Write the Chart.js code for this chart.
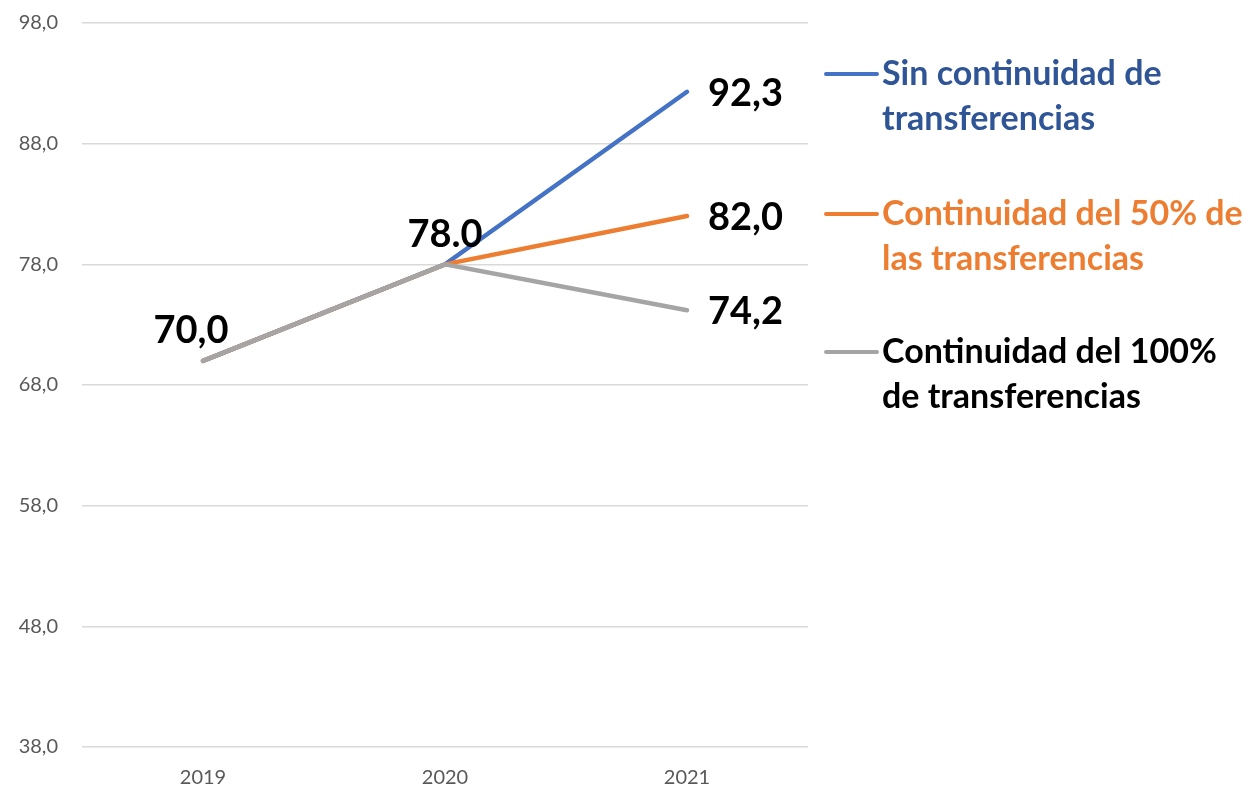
<!DOCTYPE html>
<html><head><meta charset="utf-8">
<script src="https://cdn.jsdelivr.net/npm/chart.js@4/dist/chart.umd.min.js"></script>
<style>html,body{margin:0;padding:0;background:#fff}#wrap{width:1253px;height:788px}</style>
</head><body><div id="wrap"><canvas id="c" width="1253" height="788"></canvas></div>
<script>
const categories = ['2019', '2020', '2021'];
const sinContinuidad = [70.0, 78.0, 92.3];
const continuidad50 = [70.0, 78.0, 82.0];
const continuidad100 = [70.0, 78.0, 74.2];
const seriesNames = [
  ['Sin continuidad de', 'transferencias'],
  ['Continuidad del 50% de', 'las transferencias'],
  ['Continuidad del 100%', 'de transferencias']
];
const yMin = 38, yMax = 98, yStep = 10;

const FONT = 'Lato, "Noto Sans", sans-serif';
const fmt = v => v.toFixed(1).replace('.', ',');

const labelPlugin = {
  id: 'labels',
  afterDatasetsDraw(chart) {
    const ctx = chart.ctx;
    ctx.save();
    ctx.fillStyle = '#000';
    ctx.font = 'bold 38px ' + FONT;
    ctx.textBaseline = 'middle';
    chart.data.datasets.forEach((ds, i) => {
      const p = chart.getDatasetMeta(i).data[2];
      ctx.textAlign = 'left';
      ctx.fillText(fmt(ds.data[2]), p.x + 21, p.y + 2);
    });
    const meta = chart.getDatasetMeta(2);
    const p0 = meta.data[0], p1 = meta.data[1];
    ctx.textAlign = 'center';
    ctx.fillText(fmt(continuidad100[0]), p0.x - 12, p0.y - 30);
    ctx.fillText(continuidad100[1].toFixed(1), p1.x, p1.y - 30);
    const legendY = [74, 214, 352];
    const textColors = ['#2F5597', '#ED7D31', '#000000'];
    chart.data.datasets.forEach((ds, i) => {
      const y = legendY[i];
      ctx.strokeStyle = ds.borderColor;
      ctx.lineWidth = 4;
      ctx.lineCap = 'round';
      ctx.beginPath(); ctx.moveTo(826, y); ctx.lineTo(877, y); ctx.stroke();
      ctx.fillStyle = textColors[i];
      ctx.font = 'bold 34px ' + FONT;
      ctx.textAlign = 'left';
      ctx.textBaseline = 'middle';
      seriesNames[i].forEach((t, j) => ctx.fillText(t, 882, y + j * 45));
    });
    ctx.restore();
  }
};

new Chart(document.getElementById('c'), {
  type: 'line',
  data: {
    labels: categories,
    datasets: [
      { label: seriesNames[0].join(' '), data: sinContinuidad, borderColor: '#4472C4', order: 2 },
      { label: seriesNames[1].join(' '), data: continuidad50, borderColor: '#ED7D31', order: 1 },
      { label: seriesNames[2].join(' '), data: continuidad100, borderColor: '#A5A5A5', order: 0 }
    ].map(d => Object.assign(d, { borderWidth: 4.5, pointRadius: 0, fill: false, tension: 0, borderCapStyle: 'round' }))
  },
  options: {
    responsive: false,
    animation: false,
    layout: { padding: { left: 0, right: 445, top: 23, bottom: 0 } },
    plugins: { legend: { display: false }, tooltip: { enabled: false } },
    scales: {
      x: {
        offset: true,
        grid: { display: false, drawTicks: false },
        border: { display: false },
        ticks: { color: '#595959', font: { family: FONT, size: 20 }, padding: 19 },
        afterFit: s => { s.height = 41; }
      },
      y: {
        min: yMin, max: yMax,
        grid: { color: '#D9D9D9', lineWidth: 1.5, drawTicks: false },
        border: { display: false },
        ticks: { stepSize: yStep, color: '#595959', font: { family: FONT, size: 20 }, padding: 24, callback: v => fmt(v) },
        afterFit: s => { s.width = 82; s.paddingTop = 0; }
      }
    }
  },
  plugins: [labelPlugin]
});
</script></body></html>
